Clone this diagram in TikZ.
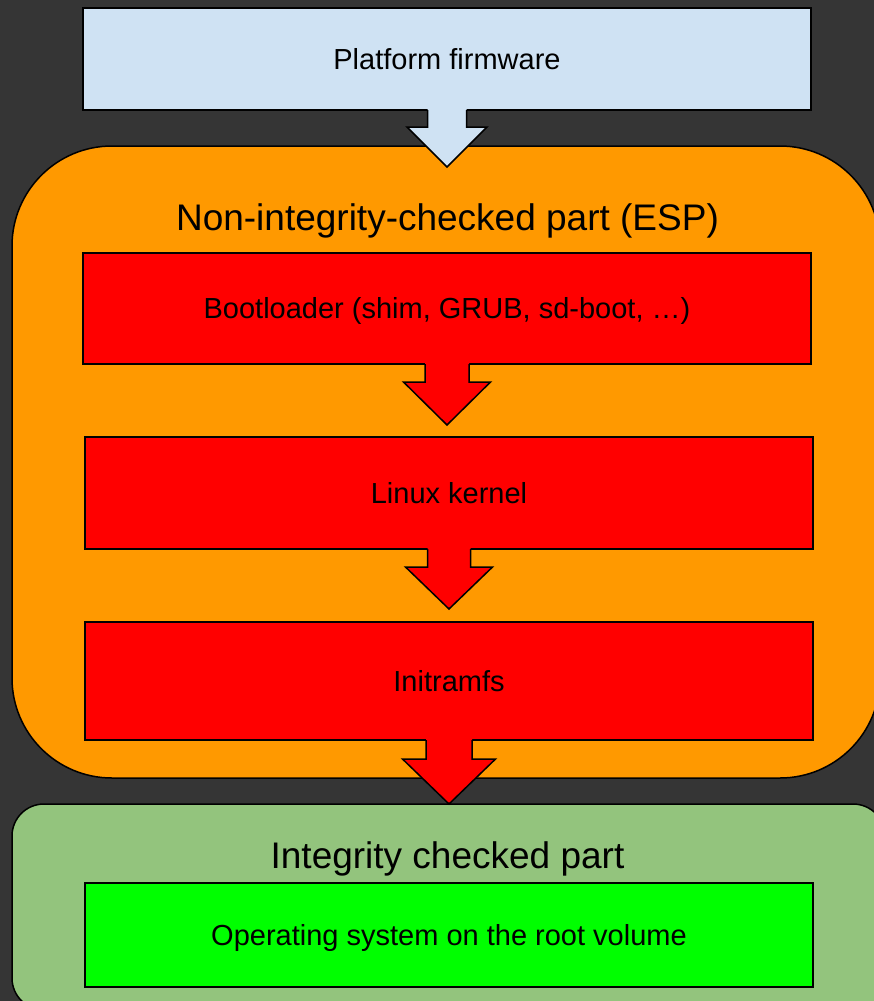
\documentclass[tikz,border=0pt]{standalone}
\usepackage{fontspec}
\setmainfont{Liberation Sans}
\usetikzlibrary{calc}
\definecolor{bgdark}{HTML}{353535}
\definecolor{fwblue}{HTML}{CFE2F3}
\definecolor{espor}{HTML}{FF9900}
\definecolor{bootred}{HTML}{FF0000}
\definecolor{intgreen}{HTML}{93C47D}
\definecolor{osgreen}{HTML}{00FF00}
\tikzset{
  box/.style={draw=black, line width=1.5pt, rectangle, inner sep=0pt, outer sep=0pt,
    font=\fontsize{29}{34}\selectfont, text height=20.8pt, text depth=0pt},
  area/.style={draw=black, line width=1.5pt, rectangle, inner sep=0pt, outer sep=0pt},
  title/.style={inner sep=0pt, font=\fontsize{37}{44}\selectfont, text height=26.5pt, text depth=0pt},
  arrowline/.style={draw=black, line width=1.5pt, line join=miter, miter limit=10},
}
\newcommand\blockarrow[7]{%
  \fill[#2] ($(#1.south)+(-#3,-3)$) -- ($(#1.south)+(-#3,#5)$) -- ($(#1.south)+(-#4,#5)$)
    -- (#7) -- ($(#1.south)+(#4,#5)$) -- ($(#1.south)+(#3,#5)$) -- ($(#1.south)+(#3,-3)$) -- cycle;
  \draw[arrowline] ($(#1.south)+(-#3,0)$) -- ($(#1.south)+(-#3,#5)$) -- ($(#1.south)+(-#4,#5)$)
    -- (#7) -- ($(#1.south)+(#4,#5)$) -- ($(#1.south)+(#3,#5)$) -- ($(#1.south)+(#3,0)$);
}
\begin{document}
\begin{tikzpicture}[x=1pt, y=-1pt]
\useasboundingbox (0,0) rectangle (874,1001);
\clip (0,0) rectangle (874,1001);
\fill[bgdark] (0,0) rectangle (874,1001);

% areas
\node[area, fill=espor, rounded corners=100pt, minimum width=868pt, minimum height=632pt] (esp) at (446,462) {};
\node[area, fill=intgreen, rounded corners=32pt, minimum width=873pt, minimum height=206pt] (integ) at (448.5,907) {};

\node[title] (esptitle) at (447.5,217) {Non-integrity-checked part (ESP)};
\node[title] (integtitle) at (447.5,855) {Integrity checked part};

% boxes
\node[box, fill=fwblue, minimum width=728pt, minimum height=102pt] (fw) at (447,59) {Platform firmware};
\node[box, fill=bootred, minimum width=728pt, minimum height=111pt] (boot) at (447,308.5) {Bootloader (shim, GRUB, sd-boot, …)};
\node[box, fill=bootred, minimum width=728pt, minimum height=112pt] (kernel) at (449,493) {Linux kernel};
\node[box, fill=bootred, minimum width=728pt, minimum height=118pt] (initrd) at (449,681) {Initramfs};
\node[box, fill=osgreen, minimum width=728pt, minimum height=104pt] (os) at (449,935) {Operating system on the root volume};

% arrow tips
\coordinate (tip1) at ($(fw.south)+(0,57)$);
\coordinate (tip2) at ($(boot.south)+(0,61)$);
\coordinate (tip3) at ($(kernel.south)+(0,60)$);
\coordinate (tip4) at (integ.north -| initrd.south);

% arrows
\blockarrow{fw}{fwblue}{19.5}{40}{17}{57}{tip1}
\blockarrow{boot}{bootred}{22}{43.5}{18}{61}{tip2}
\blockarrow{kernel}{bootred}{21.5}{43.5}{18}{60}{tip3}
\blockarrow{initrd}{bootred}{23}{46.5}{19}{63}{tip4}
\end{tikzpicture}
\end{document}
